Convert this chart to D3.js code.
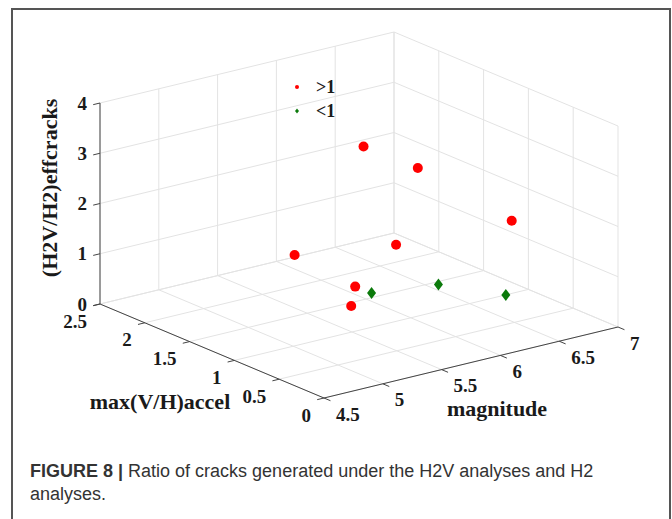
<!DOCTYPE html>
<html>
<head>
<meta charset="utf-8">
<script src="https://cdn.jsdelivr.net/npm/d3@7"></script>
<style>
  body { margin: 0; background: #fff; }
  .tick-label { font-family: "Liberation Serif", "Times New Roman", serif; font-weight: bold; font-size: 19px; fill: #1a1a1a; }
  .axis-label { font-family: "Liberation Serif", "Times New Roman", serif; font-weight: bold; font-size: 22px; fill: #1a1a1a; }
  .legend-label { font-family: "Liberation Serif", "Times New Roman", serif; font-weight: bold; font-size: 18px; fill: #1a1a1a; }
  .caption { font-family: "Liberation Sans", Arial, sans-serif; font-size: 18px; fill: #333; }
</style>
</head>
<body>
<div id="chart"></div>
<script>
// data: points with ratio > 1 (red) and < 1 (green)
const gtMagnitude = [5.88, 6.09, 6.50, 5.89, 5.21, 5.39, 5.12];
const gtAccel     = [1.37, 1.04, 0.53, 1.02, 1.26, 0.82, 0.51];
const gtRatio     = [3.2, 2.9, 2.0, 1.5, 1.5, 1.1, 1.1];

const ltMagnitude = [5.59, 6.06, 6.29];
const ltAccel     = [0.90, 0.77, 0.32];
const ltRatio     = [0.8, 0.8, 0.8];

// tick values
const magTicks = [4.5, 5, 5.5, 6, 6.5, 7];
const accelTicks = [0, 0.5, 1, 1.5, 2, 2.5];
const ratioTicks = [0, 1, 2, 3, 4];

const legendLabels = [">1", "<1"];
const captionBold = "FIGURE 8 | ";
const captionLine1 = "Ratio of cracks generated under the H2V analyses and H2";
const captionLine2 = "analyses.";

const W = 672, H = 519;

const svg = d3.select("#chart")
  .append("svg")
    .attr("width", W)
    .attr("height", H);

// frame
svg.append("rect")
  .attr("x", 12).attr("y", 9)
  .attr("width", 658).attr("height", 540)
  .attr("fill", "none")
  .attr("stroke", "#555")
  .attr("stroke-width", 2);

// 3d box: origin corner and the three axis directions (screen px)
const origin = [324, 398];
const magVec = [294, -71];     // 4.5 -> 7
const accelVec = [-224, -94];  // 0 -> 2.5
const zVec = [0, -201];        // 0 -> 4

const magScale = d3.scaleLinear().domain([4.5, 7]).range([0, 1]);
const accelScale = d3.scaleLinear().domain([0, 2.5]).range([0, 1]);
const zScale = d3.scaleLinear().domain([0, 4]).range([0, 1]);

const project = function(m, a, z) {
  const u = magScale(m), v = accelScale(a), w = zScale(z);
  return [
    origin[0] + u * magVec[0] + v * accelVec[0] + w * zVec[0],
    origin[1] + u * magVec[1] + v * accelVec[1] + w * zVec[1]
  ];
};

const line = d3.line();
const seg = function(g, p, q) {
  g.append("path").attr("d", line([p, q]));
};

// grid lines
const grid = svg.append("g")
  .attr("fill", "none")
  .attr("stroke", "#e3e3e3")
  .attr("stroke-width", 1);

// floor
magTicks.forEach(function(m) { seg(grid, project(m, 0, 0), project(m, 2.5, 0)); });
accelTicks.forEach(function(a) { seg(grid, project(4.5, a, 0), project(7, a, 0)); });
// back wall (accel = 2.5)
magTicks.forEach(function(m) { seg(grid, project(m, 2.5, 0), project(m, 2.5, 4)); });
ratioTicks.forEach(function(z) { seg(grid, project(4.5, 2.5, z), project(7, 2.5, z)); });
// side wall (magnitude = 7)
accelTicks.forEach(function(a) { seg(grid, project(7, a, 0), project(7, a, 4)); });
ratioTicks.forEach(function(z) { seg(grid, project(7, 0, z), project(7, 2.5, z)); });

// axis lines
const axes = svg.append("g")
  .attr("fill", "none")
  .attr("stroke", "#444")
  .attr("stroke-width", 1);

seg(axes, project(4.5, 0, 0), project(7, 0, 0));
seg(axes, project(4.5, 0, 0), project(4.5, 2.5, 0));
seg(axes, project(4.5, 2.5, 0), project(4.5, 2.5, 4));

// tick marks
const tickLen = 7;
const magLen = Math.hypot(magVec[0], magVec[1]);
const accelLen = Math.hypot(accelVec[0], accelVec[1]);
const magDir = [-magVec[0] / magLen, -magVec[1] / magLen];
const accelDir = [-accelVec[0] / accelLen, -accelVec[1] / accelLen];

magTicks.forEach(function(m) {
  const p = project(m, 0, 0);
  seg(axes, p, [p[0] + accelDir[0] * tickLen, p[1] + accelDir[1] * tickLen]);
});
accelTicks.forEach(function(a) {
  const p = project(4.5, a, 0);
  seg(axes, p, [p[0] + magDir[0] * tickLen, p[1] + magDir[1] * tickLen]);
});
ratioTicks.forEach(function(z) {
  const p = project(4.5, 2.5, z);
  seg(axes, p, [p[0] + magDir[0] * tickLen, p[1] + magDir[1] * tickLen]);
});

// tick labels
svg.append("g").selectAll("text")
  .data(ratioTicks)
  .enter()
  .append("text")
    .attr("class", "tick-label")
    .attr("x", function(d) { return project(4.5, 2.5, d)[0] - 13; })
    .attr("y", function(d) { return project(4.5, 2.5, d)[1]; })
    .attr("text-anchor", "end")
    .attr("dominant-baseline", "central")
    .text(function(d) { return d; });

svg.append("g").selectAll("text")
  .data(accelTicks)
  .enter()
  .append("text")
    .attr("class", "tick-label")
    .attr("x", function(d) { return project(4.5, d, 0)[0] - 13; })
    .attr("y", function(d) { return project(4.5, d, 0)[1] + 17; })
    .attr("text-anchor", "end")
    .attr("dominant-baseline", "central")
    .text(function(d) { return d; });

svg.append("g").selectAll("text")
  .data(magTicks)
  .enter()
  .append("text")
    .attr("class", "tick-label")
    .attr("x", function(d) { return project(d, 0, 0)[0] + 12; })
    .attr("y", function(d) { return project(d, 0, 0)[1] + 16; })
    .attr("text-anchor", "start")
    .attr("dominant-baseline", "central")
    .text(function(d) { return d; });

// axis titles
svg.append("text")
  .attr("class", "axis-label")
  .attr("transform", "translate(57,188) rotate(-90)")
  .attr("text-anchor", "middle")
  .text("(H2V/H2)effcracks");

svg.append("text")
  .attr("class", "axis-label")
  .attr("x", 160).attr("y", 409)
  .attr("text-anchor", "middle")
  .text("max(V/H)accel");

svg.append("text")
  .attr("class", "axis-label")
  .attr("x", 497).attr("y", 416)
  .attr("text-anchor", "middle")
  .text("magnitude");

// points
const gtData = gtMagnitude.map(function(m, i) { return {m: m, a: gtAccel[i], z: gtRatio[i]}; });
const ltData = ltMagnitude.map(function(m, i) { return {m: m, a: ltAccel[i], z: ltRatio[i]}; });

svg.append("g").selectAll("circle")
  .data(gtData)
  .enter()
  .append("circle")
    .attr("cx", function(d) { return project(d.m, d.a, d.z)[0]; })
    .attr("cy", function(d) { return project(d.m, d.a, d.z)[1]; })
    .attr("r", 5)
    .attr("fill", "#ff0000");

const diamond = function(x, y, w, h) {
  return "M" + x + "," + (y - h) + "L" + (x + w) + "," + y + "L" + x + "," + (y + h) + "L" + (x - w) + "," + y + "Z";
};

svg.append("g").selectAll("path")
  .data(ltData)
  .enter()
  .append("path")
    .attr("d", function(d) { const p = project(d.m, d.a, d.z); return diamond(p[0], p[1], 4.5, 6); })
    .attr("fill", "#0b7a0b");

// legend
const legend = svg.append("g");
legend.append("circle")
  .attr("cx", 297).attr("cy", 87).attr("r", 2)
  .attr("fill", "#ff0000");
legend.append("path")
  .attr("d", diamond(297, 111, 2, 2.6))
  .attr("fill", "#0b7a0b");
legend.selectAll("text")
  .data(legendLabels)
  .enter()
  .append("text")
    .attr("class", "legend-label")
    .attr("x", 316)
    .attr("y", function(d, i) { return 87 + i * 24; })
    .attr("dominant-baseline", "central")
    .text(function(d) { return d; });

// caption
const cap = svg.append("text")
  .attr("class", "caption")
  .attr("x", 30).attr("y", 477);
cap.append("tspan")
  .attr("font-weight", "bold")
  .text(captionBold);
cap.append("tspan")
  .text(captionLine1);
svg.append("text")
  .attr("class", "caption")
  .attr("x", 30).attr("y", 500)
  .text(captionLine2);
</script>
</body>
</html>
